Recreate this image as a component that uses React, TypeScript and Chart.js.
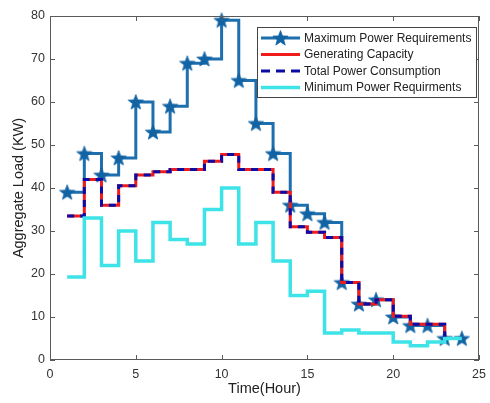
import React, { useEffect, useRef } from "react";
import { Chart, registerables } from "chart.js";

Chart.register(...registerables);

const hours = [1, 2, 3, 4, 5, 6, 7, 8, 9, 10, 11, 12, 13, 14, 15, 16, 17, 18, 19, 20, 21, 22, 23, 24];
const maxPower = [39, 48, 43, 47, 60, 53, 59, 69, 70, 79, 65, 55, 48, 36, 34, 32, 18, 13, 14, 10, 8, 8, 5, 5];
const genCapacity = [33.5, 42, 36, 40.5, 43, 43.8, 44.3, 44.3, 46.2, 47.8, 44.3, 44.3, 39, 31, 29.7, 28.5, 18, 13, 14, 10.2, 8.3, 8.3, 5];
const totalConsumption = [33.5, 42, 36, 40.5, 43, 43.8, 44.3, 44.3, 46.2, 47.8, 44.3, 44.3, 39, 31, 29.7, 28.5, 18, 13, 14, 10.2, 8.3, 8.3, 5];
const minPower = [19.3, 33, 22, 30, 23, 32, 28, 27, 35, 40, 27, 32, 23, 15, 16, 6.3, 7, 6.3, 6.3, 4.2, 3.3, 4.2, 5, 5];
const xTicks = [0, 5, 10, 15, 20, 25];
const yTicks = [0, 10, 20, 30, 40, 50, 60, 70, 80];
const seriesNames = [
  "Maximum Power Requirements",
  "Generating Capacity",
  "Total Power Consumption",
  "Minimum Power Requirments",
];

const FONT = '"Liberation Sans", Arial, Helvetica, sans-serif';
const C_MAX = "#1D6FAE";
const C_STAR = "#1263A3";
const C_GEN = "#F01C1C";
const C_TOT = "#0B0BA6";
const C_MIN = "#3DE3E6";

function drawStar(ctx: CanvasRenderingContext2D, cx: number, cy: number, ro: number) {
  const ri = ro * 0.42;
  ctx.beginPath();
  for (let i = 0; i < 10; i++) {
    const r = i % 2 === 0 ? ro : ri;
    const a = -Math.PI / 2 + (i * Math.PI) / 5;
    const px = cx + r * Math.cos(a);
    const py = cy + r * Math.sin(a);
    if (i === 0) ctx.moveTo(px, py);
    else ctx.lineTo(px, py);
  }
  ctx.closePath();
  ctx.fillStyle = C_STAR;
  ctx.fill();
  ctx.strokeStyle = C_STAR;
  ctx.lineWidth = 0.8;
  ctx.stroke();
}

function makeStarImage(): HTMLCanvasElement {
  const c = document.createElement("canvas");
  c.width = 18;
  c.height = 18;
  const ctx = c.getContext("2d")!;
  drawStar(ctx, 9, 9.6, 8);
  return c;
}

const toPoints = (ys: number[]) => ys.map((y, i) => ({ x: hours[i], y }));

const boxPlugin = {
  id: "matlabBox",
  afterDatasetsDraw(chart: any) {
    const { ctx, chartArea, scales } = chart;
    const { left, right, top, bottom } = chartArea;
    ctx.save();
    ctx.strokeStyle = "#5a5a5a";
    ctx.lineWidth = 1;
    ctx.strokeRect(left + 0.5, top + 0.5, right - left - 1, bottom - top - 1);
    ctx.beginPath();
    const tl = 5;
    xTicks.forEach((v) => {
      const px = Math.round(scales.x.getPixelForValue(v)) + 0.5;
      ctx.moveTo(px, bottom);
      ctx.lineTo(px, bottom - tl);
      ctx.moveTo(px, top);
      ctx.lineTo(px, top + tl);
    });
    yTicks.forEach((v) => {
      const py = Math.round(scales.y.getPixelForValue(v)) + 0.5;
      ctx.moveTo(left, py);
      ctx.lineTo(left + tl, py);
      ctx.moveTo(right, py);
      ctx.lineTo(right - tl, py);
    });
    ctx.stroke();
    ctx.restore();
  },
};

const legendPlugin = {
  id: "matlabLegend",
  afterDraw(chart: any) {
    const { ctx } = chart;
    const bx = 257, by = 27, bw = 219, bh = 70;
    ctx.save();
    ctx.fillStyle = "#ffffff";
    ctx.fillRect(bx, by, bw, bh);
    ctx.strokeStyle = "#444444";
    ctx.lineWidth = 1;
    ctx.strokeRect(bx + 0.5, by + 0.5, bw, bh);
    const rows = [38, 54.5, 71, 87.5];
    const x0 = 261, x1 = 300;
    ctx.lineWidth = 3;
    ctx.strokeStyle = C_MAX;
    ctx.beginPath();
    ctx.moveTo(x0, rows[0]);
    ctx.lineTo(x1, rows[0]);
    ctx.stroke();
    drawStar(ctx, (x0 + x1) / 2, rows[0] + 0.6, 8);
    ctx.lineWidth = 3;
    ctx.strokeStyle = C_GEN;
    ctx.beginPath();
    ctx.moveTo(x0, rows[1]);
    ctx.lineTo(x1, rows[1]);
    ctx.stroke();
    ctx.strokeStyle = C_TOT;
    ctx.setLineDash([9, 6]);
    ctx.beginPath();
    ctx.moveTo(x0, rows[2]);
    ctx.lineTo(x1, rows[2]);
    ctx.stroke();
    ctx.setLineDash([]);
    ctx.strokeStyle = C_MIN;
    ctx.lineWidth = 3.5;
    ctx.beginPath();
    ctx.moveTo(x0, rows[3]);
    ctx.lineTo(x1, rows[3]);
    ctx.stroke();
    ctx.fillStyle = "#222222";
    ctx.font = `12px ${FONT}`;
    ctx.textAlign = "left";
    ctx.textBaseline = "middle";
    seriesNames.forEach((n, i) => ctx.fillText(n, 304, rows[i] + 0.5));
    ctx.restore();
  },
};

export default function App() {
  const ref = useRef<HTMLCanvasElement | null>(null);
  useEffect(() => {
    if (!ref.current) return;
    const star = makeStarImage();
    const chart = new Chart(ref.current, {
      type: "line",
      data: {
        datasets: [
          {
            label: seriesNames[0],
            data: toPoints(maxPower),
            borderColor: C_MAX,
            backgroundColor: C_STAR,
            borderWidth: 3,
            stepped: "before",
            pointStyle: star as any,
            pointRadius: 8,
            order: 4,
            clip: false as any,
          },
          {
            label: seriesNames[1],
            data: toPoints(genCapacity),
            borderColor: C_GEN,
            borderWidth: 3,
            stepped: "before",
            pointRadius: 0,
            order: 3,
          },
          {
            label: seriesNames[2],
            data: toPoints(totalConsumption),
            borderColor: C_TOT,
            borderWidth: 3,
            borderDash: [7, 6],
            stepped: "before",
            pointRadius: 0,
            order: 2,
          },
          {
            label: seriesNames[3],
            data: toPoints(minPower),
            borderColor: C_MIN,
            borderWidth: 3.5,
            stepped: "before",
            pointRadius: 0,
            order: 1,
          },
        ],
      },
      options: {
        animation: false,
        responsive: false,
        maintainAspectRatio: false,
        devicePixelRatio: 1,
        layout: { padding: { top: 16, right: 5, left: 0, bottom: 0 } },
        plugins: { legend: { display: false }, tooltip: { enabled: false } },
        scales: {
          x: {
            type: "linear",
            min: 0,
            max: 25,
            grid: { display: false, drawTicks: false },
            border: { display: false },
            afterBuildTicks: (s: any) => {
              s.ticks = xTicks.map((v) => ({ value: v }));
            },
            afterFit: (s: any) => {
              s.height = 43;
              s.paddingLeft = 0;
              s.paddingRight = 0;
            },
            ticks: {
              padding: 7,
              color: "#333333",
              font: { family: FONT, size: 12.5 },
              maxRotation: 0,
              autoSkip: false,
            },
            title: {
              display: true,
              text: "Time(Hour)",
              color: "#222222",
              font: { family: FONT, size: 14.5 },
              padding: { top: 0, bottom: 5 },
            },
          },
          y: {
            type: "linear",
            min: 0,
            max: 80,
            grid: { display: false, drawTicks: false },
            border: { display: false },
            afterBuildTicks: (s: any) => {
              s.ticks = yTicks.map((v) => ({ value: v }));
            },
            afterFit: (s: any) => {
              s.width = 50;
              s.paddingTop = 0;
              s.paddingBottom = 0;
            },
            ticks: {
              padding: 5,
              color: "#333333",
              font: { family: FONT, size: 12.5 },
              autoSkip: false,
            },
            title: {
              display: true,
              text: "Aggregate Load (KW)",
              color: "#222222",
              font: { family: FONT, size: 14.5 },
              padding: { top: 10, bottom: 0 },
            },
          },
        },
      },
      plugins: [boxPlugin, legendPlugin],
    });
    return () => chart.destroy();
  }, []);
  return (
    <div style={{ position: "fixed", left: 0, top: 0, width: 490, height: 403, background: "#fff" }}>
      <canvas ref={ref} width={490} height={403} style={{ display: "block", width: 490, height: 403 }} />
    </div>
  );
}
